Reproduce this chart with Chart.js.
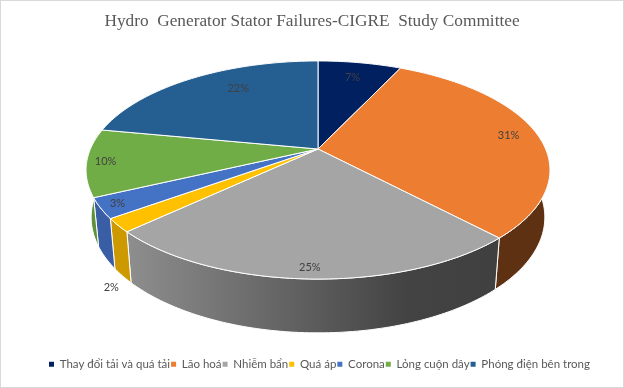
<!DOCTYPE html>
<html>
<head>
<meta charset="utf-8">
<style>
  html, body { margin: 0; padding: 0; background: #fff; }
  #wrap { width: 624px; height: 388px; box-sizing: border-box; border: 1px solid #d9d9d9; overflow: hidden; }
  canvas { display: block; margin: -1px; }
</style>
</head>
<body>
<div id="wrap"><canvas id="chartCanvas" width="624" height="388"></canvas></div>
<script src="https://cdn.jsdelivr.net/npm/chart.js@4"></script>
<script>
const titleText = "Hydro  Generator Stator Failures-CIGRE  Study Committee";
const categories = ["Thay đổi tải và quá tải", "Lão hoá", "Nhiễm bẩn", "Quá áp", "Corona", "Lỏng cuộn dây", "Phóng điện bên trong"];
const shares = [7, 31, 25, 2, 3, 10, 22];
const topColors = ["#002060", "#ed7d31", "#a5a5a5", "#ffc000", "#4472c4", "#70ad47", "#255e91"];
const sideColors = ["#001030", "#5f3113", null, "#cc9a00", "#3a5ea6", "#5e913b", "#1e4d77"];

// perspective of the disc, measured on the picture
const view = { cx: 318, cy: 149, a: 227.6, b: 105, k: 0.1927, floorY: 195, floorX: 0.978, floorZ: 1.06 };

// where each percent label sits: fraction of radius + nudge in px
const labelSpots = [
  { r: 0.8 }, { r: 0.87 }, { r: 0.93 },
  { r: 1.05, floor: true, dy: 7 },
  { r: 0.93 }, { r: 0.92 },
  { r: 0.8, dx: 24, dy: -3 }
];

const project = (theta, r = 1, floor = false) => {
  const u = r * Math.sin(theta);
  const v = r * Math.cos(theta);
  const d = 1 + view.k * v;
  const dx = view.a * u / d;
  const dy = -view.b * v / d;
  if (floor) return { x: view.cx + view.floorX * dx, y: view.floorY + view.floorZ * dy };
  return { x: view.cx + dx, y: view.cy + dy };
};

const rimPoints = (from, to, floor = false) => {
  const pts = [];
  const steps = Math.max(2, Math.ceil((to - from) / (Math.PI / 180)));
  for (let i = 0; i <= steps; i++) {
    pts.push(project(from + (to - from) * i / steps, 1, floor));
  }
  return pts;
};

const tracePath = (ctx, pts) => {
  ctx.beginPath();
  pts.forEach((p, i) => (i ? ctx.lineTo(p.x, p.y) : ctx.moveTo(p.x, p.y)));
  ctx.closePath();
};

// pie is drawn tilted: angles come from the arc elements of the library
const tiltedPie = {
  id: "tiltedPie",
  // legend sits a little right of the chart centre
  afterLayout(chart) {
    chart.legend.left += 7.5;
    chart.legend.right += 7.5;
  },
  beforeDatasetDraw(chart, args) {
    const ctx = chart.ctx;
    const arcs = chart.getDatasetMeta(args.index).data;
    const ds = chart.data.datasets[args.index];
    const slices = arcs.map((arc, i) => ({
      i,
      from: arc.startAngle + Math.PI / 2,
      to: arc.endAngle + Math.PI / 2,
      color: arc.options.backgroundColor
    }));

    ctx.save();
    ctx.lineJoin = "round";
    ctx.strokeStyle = "#fff";
    ctx.lineWidth = 1;

    // outer wall first
    slices.forEach((s) => {
      tracePath(ctx, rimPoints(s.from, s.to).concat(rimPoints(s.from, s.to, true).reverse()));
      if (sideColors[s.i]) {
        ctx.fillStyle = sideColors[s.i];
      } else {
        const left = project(s.to);
        const right = project(s.from);
        const grad = ctx.createLinearGradient(left.x, 0, right.x, 0);
        grad.addColorStop(0, "#8e8e8e");
        grad.addColorStop(0.75, "#434343");
        grad.addColorStop(1, "#404040");
        ctx.fillStyle = grad;
      }
      ctx.fill();
      ctx.stroke();
    });

    // top face
    slices.forEach((s) => {
      const apex = { x: view.cx, y: view.cy };
      tracePath(ctx, [apex].concat(rimPoints(s.from, s.to)));
      ctx.fillStyle = s.color;
      ctx.fill();
      ctx.stroke();
    });

    // percent labels
    ctx.fillStyle = "#404040";
    ctx.font = "11px Lato";
    ctx.textAlign = "center";
    ctx.textBaseline = "middle";
    slices.forEach((s) => {
      const spot = labelSpots[s.i];
      const p = project((s.from + s.to) / 2, spot.r, spot.floor);
      ctx.fillText(ds.data[s.i] + "%", p.x + (spot.dx || 0), p.y + (spot.dy || 0));
    });
    ctx.restore();
    return false;
  }
};

new Chart(document.getElementById("chartCanvas"), {
  type: "pie",
  data: {
    labels: categories,
    datasets: [{ data: shares, backgroundColor: topColors, borderColor: "#fff", borderWidth: 1 }]
  },
  plugins: [tiltedPie],
  options: {
    responsive: false,
    animation: false,
    layout: { padding: { top: 11, bottom: 8 } },
    plugins: {
      tooltip: { enabled: false },
      title: {
        display: true,
        text: titleText,
        color: "#595959",
        font: { family: "'Liberation Serif'", size: 17.3, weight: "normal" },
        padding: { top: 0, bottom: 10 }
      },
      legend: {
        position: "bottom",
        labels: {
          color: "#595959",
          font: { family: "Lato", size: 11.5 },
          boxWidth: 5,
          boxHeight: 5,
          padding: 1,
          generateLabels(chart) {
            return Chart.overrides.pie.plugins.legend.labels.generateLabels(chart)
              .map((item) => ({ ...item, lineWidth: 0 }));
          }
        }
      }
    }
  }
});
</script>
</body>
</html>
